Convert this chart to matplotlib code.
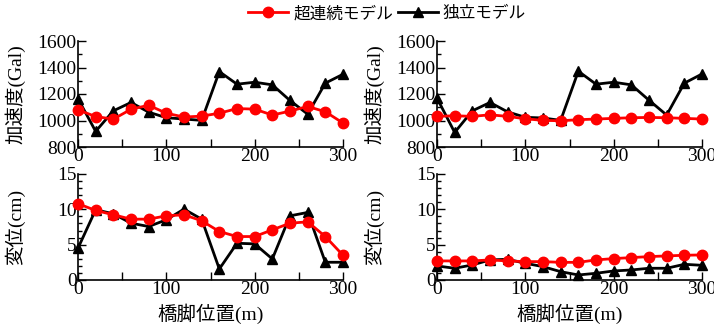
import matplotlib
matplotlib.use("Agg")
import matplotlib.pyplot as plt
from matplotlib.ticker import MultipleLocator

pier_pos = [0, 20, 40, 60, 80, 100, 120, 140, 160, 180, 200, 220, 240, 260, 280, 300]

# Top-left: acceleration (Gal)
acc_cont_L = [1080, 1030, 1010, 1085, 1115, 1055, 1026, 1033, 1055, 1090, 1086, 1041, 1071, 1106, 1066, 981]
acc_ind_L = [1164, 918, 1073, 1136, 1063, 1021, 1011, 1001, 1369, 1274, 1289, 1269, 1151, 1048, 1282, 1349]
# Top-right
acc_cont_R = [1031, 1036, 1031, 1043, 1031, 1013, 1001, 998, 1006, 1011, 1016, 1021, 1023, 1021, 1016, 1011]
acc_ind_R = [1169, 910, 1073, 1136, 1065, 1024, 1019, 1001, 1372, 1274, 1289, 1269, 1153, 1041, 1282, 1351]
# Bottom-left: displacement (cm)
disp_cont_L = [10.8, 9.84, 9.23, 8.61, 8.61, 9.08, 9.23, 8.38, 6.86, 6.15, 6.15, 7.10, 8.04, 8.23, 6.15, 3.50]
disp_ind_L = [4.5, 9.94, 9.37, 8.04, 7.57, 8.52, 10.03, 8.61, 1.56, 5.20, 5.11, 2.98, 9.08, 9.56, 2.51, 2.51]
# Bottom-right
disp_cont_R = [2.70, 2.70, 2.70, 2.84, 2.70, 2.60, 2.60, 2.50, 2.50, 2.84, 3.03, 3.17, 3.31, 3.41, 3.50, 3.55]
disp_ind_R = [1.99, 1.66, 2.13, 2.84, 2.93, 2.37, 1.89, 1.18, 0.71, 0.95, 1.28, 1.42, 1.66, 1.66, 2.22, 2.08]

label_cont = "超連続モデル"
label_ind = "独立モデル"
ylabel_acc = "加速度(Gal)"
ylabel_disp = "変位(cm)"
xlabel = "橋脚位置(m)"

plt.rcParams['font.family'] = ['Liberation Serif', 'Noto Sans CJK JP']

W, H = 714, 327
fig = plt.figure(figsize=(W / 100, H / 100), dpi=100)

def ax_rect(x0, x1, y0, y1):
    return [x0 / W, 1 - y1 / H, (x1 - x0) / W, (y1 - y0) / H]

axes = {
    'tl': fig.add_axes(ax_rect(78, 343, 41, 147)),
    'tr': fig.add_axes(ax_rect(437, 702, 41, 147)),
    'bl': fig.add_axes(ax_rect(78, 343, 174, 280)),
    'br': fig.add_axes(ax_rect(437, 702, 174, 280)),
}

data = {
    'tl': (acc_cont_L, acc_ind_L),
    'tr': (acc_cont_R, acc_ind_R),
    'bl': (disp_cont_L, disp_ind_L),
    'br': (disp_cont_R, disp_ind_R),
}

handles = None
for key, ax in axes.items():
    cont, ind = data[key]
    h2, = ax.plot(pier_pos, ind, color='black', lw=2, marker='^', ms=7.5,
                  label=label_ind, clip_on=False, zorder=3)
    h1, = ax.plot(pier_pos, cont, color='#ff0000', lw=2, marker='o', ms=7.5,
                  label=label_cont, clip_on=False, zorder=4)
    handles = (h1, h2)
    ax.set_xlim(0, 300)
    ax.xaxis.set_major_locator(MultipleLocator(100))
    ax.xaxis.set_minor_locator(MultipleLocator(50))
    if key in ('tl', 'tr'):
        ax.set_ylim(800, 1600)
        ax.yaxis.set_major_locator(MultipleLocator(200))
        ax.yaxis.set_minor_locator(MultipleLocator(100))
        ax.set_ylabel(ylabel_acc, fontsize=14)
    else:
        ax.set_ylim(0, 15)
        ax.yaxis.set_major_locator(MultipleLocator(5))
        ax.yaxis.set_minor_locator(MultipleLocator(1))
        ax.set_ylabel(ylabel_disp, fontsize=14)
        ax.set_xlabel(xlabel, fontsize=14, labelpad=4)
    ax.yaxis.set_label_coords(-0.2, 0.5)
    for s in ('top', 'right'):
        ax.spines[s].set_visible(False)
    for s in ('left', 'bottom'):
        ax.spines[s].set_linewidth(1.2)
    ax.tick_params(which='major', direction='in', length=6, width=1, labelsize=14, pad=1)
    ax.tick_params(which='minor', direction='in', length=3, width=1)
    ax.tick_params(axis='x', which='minor', length=6)

fig.legend(handles, [label_cont, label_ind], loc='upper center', ncol=2,
           bbox_to_anchor=(0.542, 1.03), frameon=False,
           handlelength=2.4, handletextpad=0.3, columnspacing=0.3,
           prop={'family': ['Noto Sans CJK JP'], 'size': 12})

fig.savefig('out.png', dpi=100)
